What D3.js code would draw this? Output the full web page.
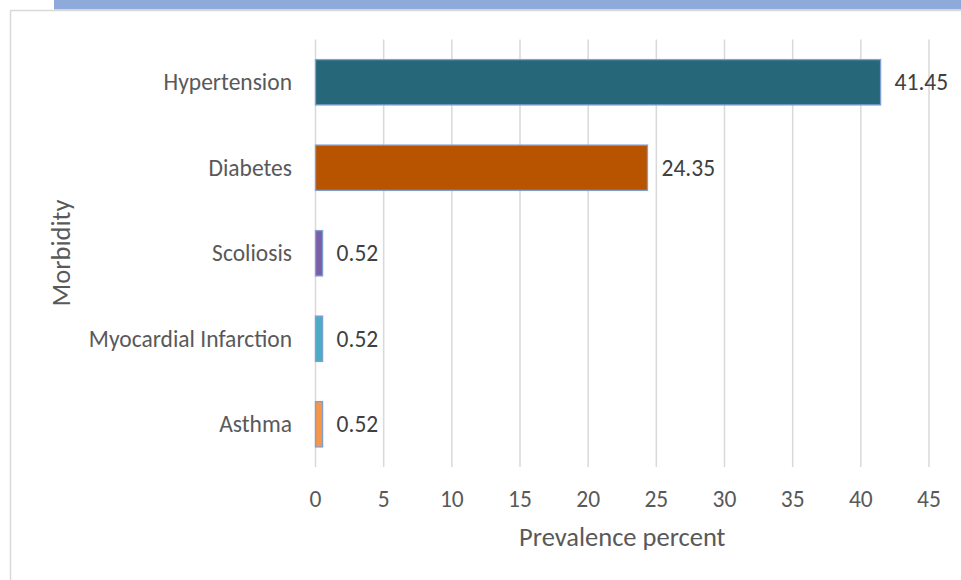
<!DOCTYPE html>
<html><head><meta charset="utf-8">
<script src="https://cdn.jsdelivr.net/npm/d3@7"></script>
<style>body{margin:0;background:#fff;}svg{display:block;font-family:Carlito,Calibri,Lato,sans-serif;}</style>
</head><body>
<svg id="c" width="961" height="580"></svg>
<script>
const categories = ["Hypertension","Diabetes","Scoliosis","Myocardial Infarction","Asthma"];
const values = [41.45,24.35,0.52,0.52,0.52];
const colors = ["#26687A","#B85400","#7B5EA7","#4BACC6","#F79646"];
const ticks = [0,5,10,15,20,25,30,35,40,45];

const svg = d3.select("#c");
// header band and chart frame
svg.append("rect").attr("x",54).attr("y",0).attr("width",907).attr("height",9.5).attr("fill","#8EAADB");
svg.append("path").attr("d","M10.5,580 V10.5 H961").attr("fill","none").attr("stroke","#d9d9d9").attr("stroke-width",1.5);

const m = {left:315.5, right:929, top:39.5, bottom:467};
const x = d3.scaleLinear().domain([0,45]).range([m.left,m.right]);
const y = d3.scaleBand().domain(categories).range([m.top,m.bottom]).paddingInner(0.47).paddingOuter(0.235);

const g = svg.append("g");
g.selectAll("line.grid").data(ticks).join("line")
  .attr("x1",d=>x(d)).attr("x2",d=>x(d)).attr("y1",m.top).attr("y2",m.bottom)
  .attr("stroke","#d9d9d9").attr("stroke-width",1.5);

g.selectAll("rect.bar").data(categories).join("rect")
  .attr("x",x(0)).attr("y",d=>y(d))
  .attr("width",(d,i)=>x(values[i])-x(0)).attr("height",y.bandwidth())
  .attr("fill",(d,i)=>colors[i]).attr("stroke","#7F9FD3").attr("stroke-width",1.3);

g.selectAll("text.val").data(categories).join("text")
  .attr("x",(d,i)=>x(values[i])+14).attr("y",d=>y(d)+y.bandwidth()/2)
  .attr("dy","0.35em").attr("font-size",23.5).attr("fill","#404040")
  .text((d,i)=>values[i].toFixed(2));

g.selectAll("text.cat").data(categories).join("text")
  .attr("x",292).attr("y",d=>y(d)+y.bandwidth()/2).attr("dy","0.35em")
  .attr("text-anchor","end").attr("font-size",23.5).attr("fill","#595959").text(d=>d);

g.selectAll("text.tick").data(ticks).join("text")
  .attr("x",d=>x(d)).attr("y",499).attr("dy","0.35em").attr("text-anchor","middle")
  .attr("font-size",23.5).attr("fill","#595959").text(d=>d);

svg.append("text").attr("x",(m.left+m.right)/2).attr("y",537).attr("dy","0.35em")
  .attr("text-anchor","middle").attr("font-size",26.5).attr("fill","#595959").text("Prevalence percent");
svg.append("text").attr("transform","translate(61,253) rotate(-90)").attr("dy","0.35em")
  .attr("text-anchor","middle").attr("font-size",26.5).attr("fill","#595959").text("Morbidity");
</script>
</body></html>
